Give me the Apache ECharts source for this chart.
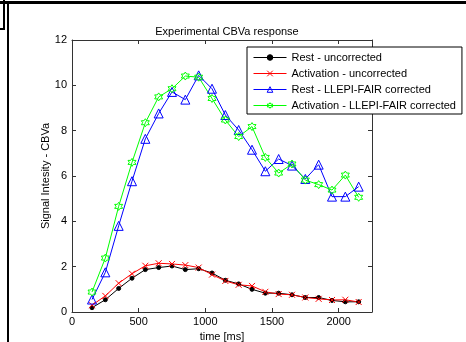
<!DOCTYPE html>
<html>
<head>
<meta charset="utf-8">
<script src="https://cdn.jsdelivr.net/npm/echarts@6/dist/echarts.min.js"></script>
<style>html,body{margin:0;padding:0;background:#fff;}#c{width:466px;height:342px;}</style>
</head>
<body>
<div id="c"></div>
<script>
var times = [150,250,350,450,550,650,750,850,950,1050,1150,1250,1350,1450,1550,1650,1750,1850,1950,2050,2150];
var restUncorr = [0.19,0.54,1.04,1.49,1.87,1.96,2.03,1.87,1.91,1.72,1.40,1.24,1.00,0.83,0.83,0.76,0.64,0.64,0.51,0.45,0.45];
var actUncorr  = [0.30,0.71,1.27,1.69,2.04,2.15,2.12,2.07,1.96,1.65,1.37,1.20,1.15,0.89,0.79,0.76,0.64,0.58,0.53,0.54,0.44];
var restCorr   = [0.55,1.75,3.80,5.77,7.64,8.76,9.71,9.37,10.44,9.85,8.69,8.03,7.16,6.21,6.75,6.46,5.87,6.50,5.09,5.09,5.53];
var actCorr    = [0.88,2.38,4.66,6.60,8.35,9.49,9.85,10.41,10.36,9.42,8.47,7.74,8.18,6.82,6.13,6.53,5.82,5.62,5.38,6.04,5.06];
var seriesNames = ['Rest - uncorrected','Activation - uncorrected','Rest - LLEPI-FAIR corrected','Activation - LLEPI-FAIR corrected'];
var xTicks = [0,500,1000,1500,2000];
var yTicks = [0,2,4,6,8,10,12];

function pairs(v){ return times.map(function(t,i){ return [t, v[i]]; }); }
var xPath = 'path://M0,0L10,10M10,0L0,10';
var hexPath = 'path://M0,-10L-2.89,-5L-8.66,-5L-5.77,0L-8.66,5L-2.89,5L0,10L2.89,5L8.66,5L5.77,0L8.66,-5L2.89,-5Z';
var font = 'Liberation Sans, Arial, sans-serif';
var axisCol = '#333';

var chart = echarts.init(document.getElementById('c'), null, {renderer:'canvas'});
function mkSeries(name, vals, color, symbol, size, filled){
  return {
    name: name, type: 'line', data: pairs(vals), xAxisIndex:0, yAxisIndex:0,
    symbol: symbol, symbolSize: size, showAllSymbol: true, animation:false,
    lineStyle: {color: color, width: 1},
    itemStyle: {color: filled ? color : 'rgba(255,255,255,0)', borderColor: color, borderWidth: 1},
    emphasis: {disabled: true}
  };
}
var option = {
  animation: false,
  backgroundColor: '#fff',
  textStyle: {fontFamily: font},
  title: {text: 'Experimental CBVa response', left: 222, top: 21, textAlign: 'center',
    textStyle: {fontSize: 11, fontWeight: 'normal', color: '#000', fontFamily: font}},
  grid: {left: 72, top: 40, width: 300, height: 272, containLabel: false, outerBoundsMode: 'none'},
  legend: {
    data: seriesNames, orient: 'vertical', left: 247, top: 47,
    backgroundColor: '#fff', borderColor: '#000', borderWidth: 1, borderRadius: 0,
    padding: [5, 6, 3, 6], itemWidth: 33, itemHeight: 7, itemGap: 5,
    lineStyle: {width: 1},
    itemStyle: {borderWidth: 1},
    textStyle: {fontSize: 11, color: '#000', fontFamily: font}
  },
  xAxis: [{
    type: 'value', min: 0, max: 2250, interval: 500,
    name: 'time [ms]', nameLocation: 'middle', nameGap: 19, nameMoveOverlap: false,
    nameTextStyle: {fontSize: 11, color: '#000', fontFamily: font},
    axisLine: {show: true, lineStyle: {color: axisCol}},
    axisTick: {show: true, inside: true, length: 4, lineStyle: {color: axisCol}},
    axisLabel: {fontSize: 11, color: '#000', margin: 4, fontFamily: font,
      formatter: function(v){ return xTicks.indexOf(v) >= 0 ? String(v) : ''; }},
    splitLine: {show: false}
  },{
    type: 'value', position: 'top', min: 0, max: 2250, interval: 500,
    axisLine: {show: true, onZero: false, lineStyle: {color: axisCol}},
    axisTick: {show: true, inside: true, length: 4, lineStyle: {color: axisCol}},
    axisLabel: {show: false}, splitLine: {show: false}
  }],
  yAxis: [{
    type: 'value', min: 0, max: 12, interval: 2,
    name: 'Signal Intesity - CBVa', nameLocation: 'middle', nameGap: 21, nameMoveOverlap: false,
    nameTextStyle: {fontSize: 11, color: '#000', fontFamily: font},
    axisLine: {show: true, lineStyle: {color: axisCol}},
    axisTick: {show: true, inside: true, length: 4, lineStyle: {color: axisCol}},
    axisLabel: {fontSize: 11, color: '#000', margin: 5, fontFamily: font,
      formatter: function(v){ return yTicks.indexOf(v) >= 0 ? String(v) : ''; }},
    splitLine: {show: false}
  },{
    type: 'value', position: 'right', min: 0, max: 12, interval: 2,
    axisLine: {show: true, onZero: false, lineStyle: {color: axisCol}},
    axisTick: {show: true, inside: true, length: 4, lineStyle: {color: axisCol}},
    axisLabel: {show: false}, splitLine: {show: false}
  }],
  graphic: [
    {type:'rect', shape:{x:0,y:1,width:466,height:3}, style:{fill:'#000'}, silent:true},
    {type:'rect', shape:{x:3,y:0,width:2,height:30}, style:{fill:'#000'}, silent:true},
    {type:'rect', shape:{x:0,y:28,width:5,height:2}, style:{fill:'#000'}, silent:true},
    {type:'rect', shape:{x:7,y:3,width:2,height:339}, style:{fill:'#000'}, silent:true}
  ],
  series: [
    mkSeries(seriesNames[0], restUncorr, '#000000', 'circle', 4, true),
    mkSeries(seriesNames[1], actUncorr, '#ff0000', xPath, 6, false),
    mkSeries(seriesNames[2], restCorr, '#0000ff', 'triangle', 9, false),
    mkSeries(seriesNames[3], actCorr, '#00ff00', hexPath, 8, false)
  ]
};
chart.setOption(option);
</script>
</body>
</html>
